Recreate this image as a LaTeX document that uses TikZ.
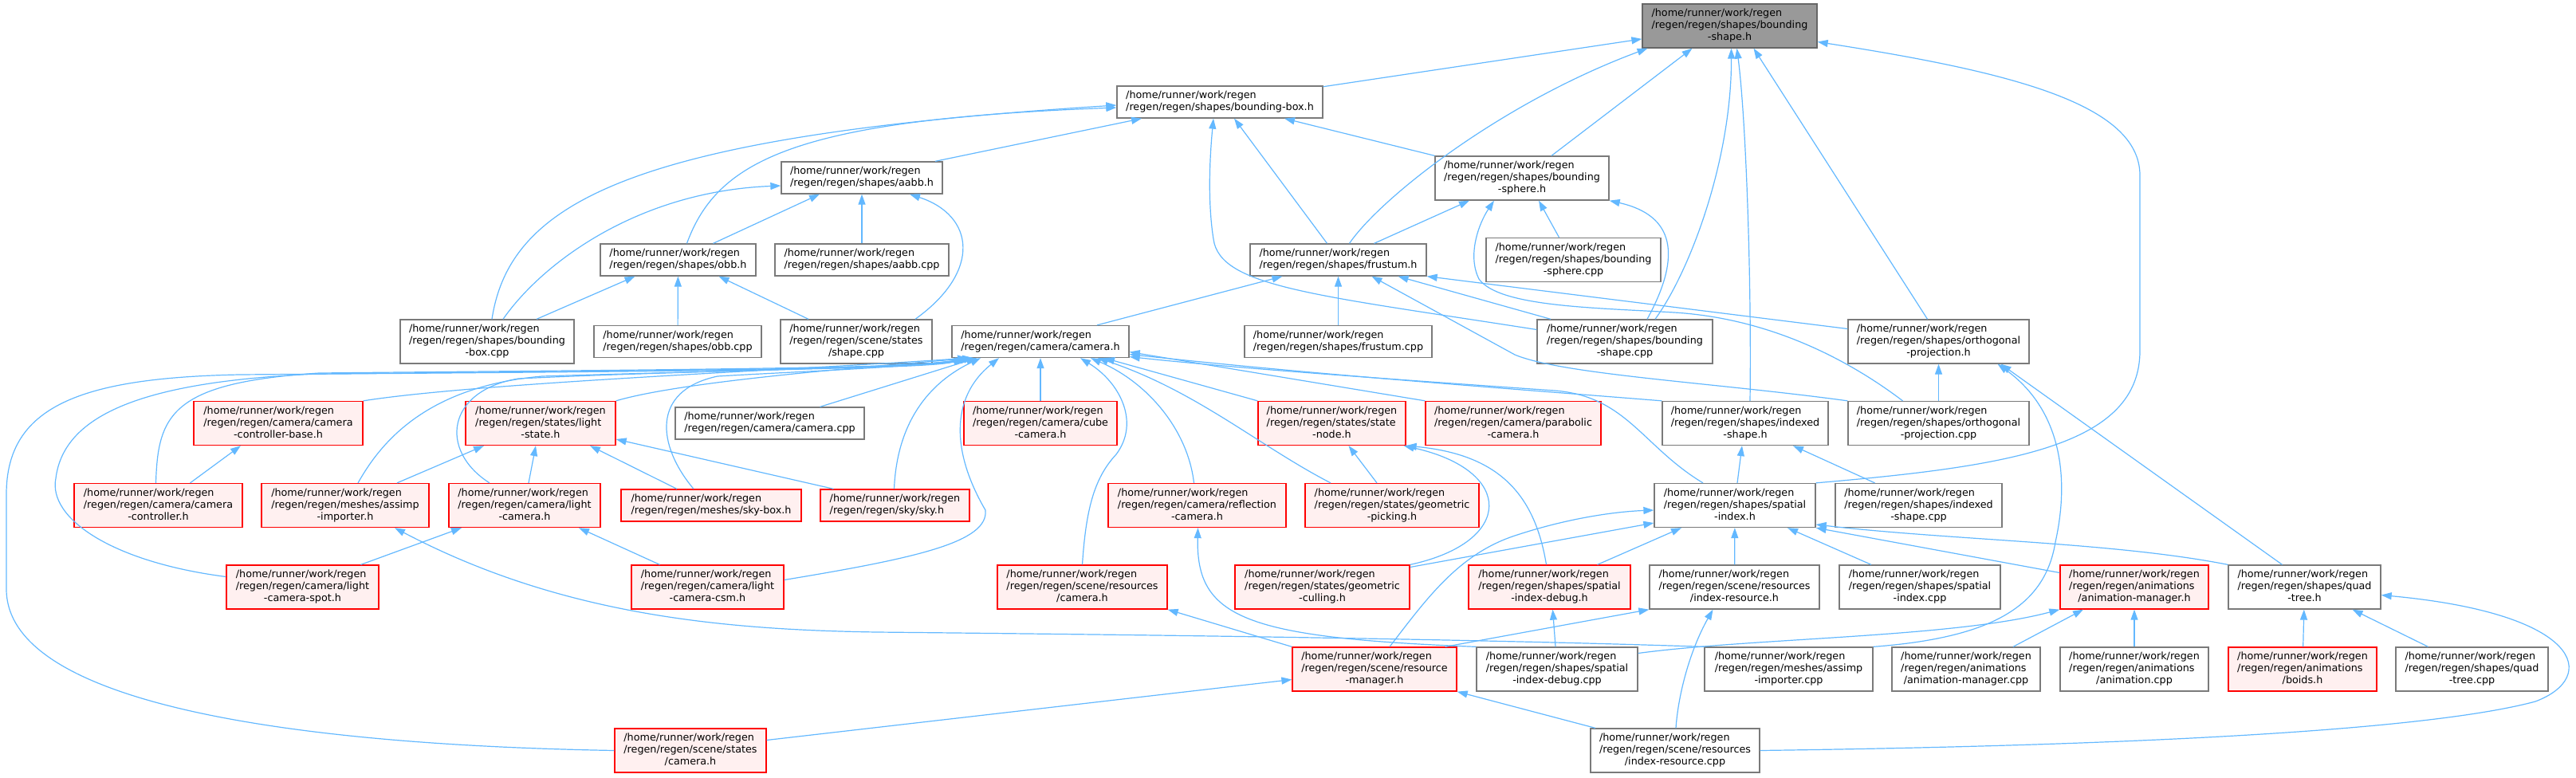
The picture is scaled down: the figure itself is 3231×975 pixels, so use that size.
\documentclass[tikz,border=0pt]{standalone}
\usepackage{fontspec}
\setmainfont{DejaVu Sans}
\usepackage{tikz}
\usepackage{xcolor}
\usetikzlibrary{arrows.meta}

\definecolor{edgeblue}{HTML}{63B8FF}
\definecolor{fileborder}{HTML}{7A7A7A}
\definecolor{rootfill}{HTML}{999999}
\definecolor{rootborder}{HTML}{666666}
\definecolor{redfill}{HTML}{FFF0F0}

\newcommand{\ptwo}[1]{\begin{tabular}{@{}l@{}}/home/runner/work/regen\\#1\end{tabular}}
\newcommand{\pthree}[2]{\begin{tabular}{@{}l@{}}/home/runner/work/regen\\#1\\\multicolumn{1}{@{}c@{}}{#2}\end{tabular}}

\begin{document}
\begin{tikzpicture}[x=1pt, y=-1pt, >={Triangle[length=13pt,width=9pt]},
        filebox/.style={draw=fileborder, fill=white, line width=1.3pt, inner xsep=6pt, inner ysep=5pt, font=\fontsize{12.75}{15}\selectfont},
        redbox/.style={filebox, draw=red, fill=redfill},
        rootbox/.style={filebox, draw=rootborder, fill=rootfill},
        dep/.style={draw=edgeblue, line width=1.2pt}]
        \useasboundingbox (0,0) rectangle (3231,975);

        \node (bsh) at (2169.5, 32.5) [rootbox, minimum width=219pt] {\pthree{/regen/regen/shapes/bounding}{-shape.h}};
        \node (bbh) at (1530, 128) [filebox, minimum width=258pt] {\ptwo{/regen/regen/shapes/bounding-box.h}};
        \node (aabbh) at (1081, 223) [filebox, minimum width=202pt] {\ptwo{/regen/regen/shapes/aabb.h}};
        \node (bsph) at (1909, 223.5) [filebox, minimum width=218pt] {\pthree{/regen/regen/shapes/bounding}{-sphere.h}};
        \node (obbh) at (850.5, 326) [filebox, minimum width=195pt] {\ptwo{/regen/regen/shapes/obb.h}};
        \node (aabbc) at (1081, 326) [filebox, minimum width=218pt] {\ptwo{/regen/regen/shapes/aabb.cpp}};
        \node (frh) at (1678.5, 326) [filebox, minimum width=221pt] {\ptwo{/regen/regen/shapes/frustum.h}};
        \node (bspc) at (1973.5, 326) [filebox, minimum width=219pt] {\pthree{/regen/regen/shapes/bounding}{-sphere.cpp}};
        \node (bbc) at (611, 428.5) [filebox, minimum width=218pt] {\pthree{/regen/regen/shapes/bounding}{-box.cpp}};
        \node (obbc) at (850, 428.5) [filebox, minimum width=210pt] {\ptwo{/regen/regen/shapes/obb.cpp}};
        \node (shapec) at (1074, 428.5) [filebox, minimum width=190pt] {\pthree{/regen/regen/scene/states}{/shape.cpp}};
        \node (camh) at (1305, 428.5) [filebox, minimum width=222pt] {\ptwo{/regen/regen/camera/camera.h}};
        \node (frc) at (1678.5, 428.5) [filebox, minimum width=235pt] {\ptwo{/regen/regen/shapes/frustum.cpp}};
        \node (bshc) at (2038, 428.5) [filebox, minimum width=220pt] {\pthree{/regen/regen/shapes/bounding}{-shape.cpp}};
        \node (oph) at (2431.5, 428.5) [filebox, minimum width=227pt] {\pthree{/regen/regen/shapes/orthogonal}{-projection.h}};

        \node (ccbh) at (349, 531) [redbox, minimum width=212pt] {\pthree{/regen/regen/camera/camera}{-controller-base.h}};
        \node (lsh) at (678, 531) [redbox, minimum width=188pt] {\pthree{/regen/regen/states/light}{-state.h}};
        \node (camc) at (965.5, 531) [filebox, minimum width=237pt] {\ptwo{/regen/regen/camera/camera.cpp}};
        \node (cubeh) at (1305, 531) [redbox, minimum width=192pt] {\pthree{/regen/regen/camera/cube}{-camera.h}};
        \node (snh) at (1670.5, 531) [redbox, minimum width=185pt] {\pthree{/regen/regen/states/state}{-node.h}};
        \node (parah) at (1898, 531) [redbox, minimum width=220pt] {\pthree{/regen/regen/camera/parabolic}{-camera.h}};
        \node (ish) at (2189, 531) [filebox, minimum width=208pt] {\pthree{/regen/regen/shapes/indexed}{-shape.h}};
        \node (opc) at (2431.5, 531) [filebox, minimum width=227pt] {\pthree{/regen/regen/shapes/orthogonal}{-projection.cpp}};

        \node (cch) at (198.5, 634) [redbox, minimum width=211pt] {\pthree{/regen/regen/camera/camera}{-controller.h}};
        \node (aih) at (433, 634) [redbox, minimum width=210pt] {\pthree{/regen/regen/meshes/assimp}{-importer.h}};
        \node (lch) at (658, 634) [redbox, minimum width=190pt] {\pthree{/regen/regen/camera/light}{-camera.h}};
        \node (skyboxh) at (892, 634) [redbox, minimum width=226pt] {\ptwo{/regen/regen/meshes/sky-box.h}};
        \node (skyh) at (1122.5, 634) [redbox, minimum width=187pt] {\ptwo{/regen/regen/sky/sky.h}};
        \node (refh) at (1501.5, 634) [redbox, minimum width=223pt] {\pthree{/regen/regen/camera/reflection}{-camera.h}};
        \node (gph) at (1746, 634) [redbox, minimum width=218pt] {\pthree{/regen/regen/states/geometric}{-picking.h}};
        \node (sih) at (2176, 634) [filebox, minimum width=202pt] {\pthree{/regen/regen/shapes/spatial}{-index.h}};
        \node (isc) at (2406.5, 634) [filebox, minimum width=209pt] {\pthree{/regen/regen/shapes/indexed}{-shape.cpp}};

        \node (lcsh) at (379.5, 736.5) [redbox, minimum width=191pt] {\pthree{/regen/regen/camera/light}{-camera-spot.h}};
        \node (lcch) at (887.5, 736.5) [redbox, minimum width=191pt] {\pthree{/regen/regen/camera/light}{-camera-csm.h}};
        \node (srch) at (1357.5, 736.5) [redbox, minimum width=213pt] {\pthree{/regen/regen/scene/resources}{/camera.h}};
        \node (gch) at (1658.5, 736.5) [redbox, minimum width=219pt] {\pthree{/regen/regen/states/geometric}{-culling.h}};
        \node (sidh) at (1943.5, 736.5) [redbox, minimum width=203pt] {\pthree{/regen/regen/shapes/spatial}{-index-debug.h}};
        \node (irh) at (2175.5, 736.5) [filebox, minimum width=213pt] {\pthree{/regen/regen/scene/resources}{/index-resource.h}};
        \node (sic) at (2408, 736.5) [filebox, minimum width=202pt] {\pthree{/regen/regen/shapes/spatial}{-index.cpp}};
        \node (amh) at (2677, 736.5) [redbox, minimum width=186pt] {\pthree{/regen/regen/animations}{/animation-manager.h}};
        \node (qth) at (2890.5, 736.5) [filebox, minimum width=191pt] {\pthree{/regen/regen/shapes/quad}{-tree.h}};

        \node (rmh) at (1724, 839.5) [redbox, minimum width=206pt] {\pthree{/regen/regen/scene/resource}{-manager.h}};
        \node (sidc) at (1953, 839.5) [filebox, minimum width=202pt] {\pthree{/regen/regen/shapes/spatial}{-index-debug.cpp}};
        \node (aic) at (2243.5, 839.5) [filebox, minimum width=211pt] {\pthree{/regen/regen/meshes/assimp}{-importer.cpp}};
        \node (amc) at (2466, 839.5) [filebox, minimum width=186pt] {\pthree{/regen/regen/animations}{/animation-manager.cpp}};
        \node (anc) at (2677, 839.5) [filebox, minimum width=186pt] {\pthree{/regen/regen/animations}{/animation.cpp}};
        \node (boidsh) at (2888, 839.5) [redbox, minimum width=186pt] {\pthree{/regen/regen/animations}{/boids.h}};
        \node (qtc) at (3100.5, 839.5) [filebox, minimum width=191pt] {\pthree{/regen/regen/shapes/quad}{-tree.cpp}};

        \node (ssch) at (866, 941.5) [redbox, minimum width=190pt] {\pthree{/regen/regen/scene/states}{/camera.h}};
        \node (irc) at (2101, 941.5) [filebox, minimum width=212pt] {\pthree{/regen/regen/scene/resources}{/index-resource.cpp}};

        \draw[->, dep] (bbh) -- (bsh);
        \draw[->, dep] ([xshift=14pt]frh.north) .. controls (1730,250) and (1880,130) .. ([xshift=-103pt]bsh.south);
        \draw[->, dep] ([xshift=37pt]bsph.north) -- ([xshift=-47pt]bsh.south);
        \draw[->, dep] ([xshift=38pt]bshc.north) .. controls (2120,340) and (2172,200) .. ([xshift=2pt]bsh.south);
        \draw[->, dep] ([xshift=6pt]ish.north) .. controls (2197,350) and (2190,150) .. ([xshift=9pt]bsh.south);
        \draw[->, dep] ([xshift=-14pt]oph.north) -- ([xshift=30pt]bsh.south);
        \draw[->, dep] (sih.north east) .. controls (2520,585) and (2684,560) .. (2684,440) -- (2684,220) .. controls (2684,130) and (2520,90) .. ([yshift=-20pt]bsh.east);

        \draw[->, dep] ([xshift=92pt]aabbh.north) -- ([xshift=-98pt]bbh.south);
        \draw[->, dep] ([xshift=11pt]obbh.north) .. controls (900,200) and (1000,150) .. ([yshift=-7pt]bbh.west);
        \draw[->, dep] ([xshift=6pt]bbc.north) .. controls (640,250) and (800,170) .. ([yshift=-4pt]bbh.west);
        \draw[->, dep] ([xshift=-14pt]frh.north) -- ([xshift=18pt]bbh.south);
        \draw[->, dep] (bsph.north west) -- ([xshift=81pt]bbh.south);
        \draw[->, dep] ([yshift=15pt]bshc.west) .. controls (1650,370) and (1530,360) .. (1522,300) .. controls (1514,250) and (1518,190) .. ([xshift=-8pt]bbh.south);

        \draw[->, dep] ([xshift=44pt]obbh.north) -- ([xshift=-53pt]aabbh.south);
        \draw[->, dep] (aabbc) -- (aabbh);
        \draw[->, dep] ([xshift=20pt]bbc.north) .. controls (680,330) and (800,240) .. ([yshift=-10pt]aabbh.west);
        \draw[->, dep] ([xshift=74pt]shapec.north) .. controls (1232,340) and (1222,270) .. ([xshift=60pt]aabbh.south);
        \draw[->, dep] ([xshift=62pt]bbc.north) -- ([xshift=-54pt]obbh.south);
        \draw[->, dep] (obbc) -- (obbh);
        \draw[->, dep] ([xshift=-60pt]shapec.north) -- ([xshift=51pt]obbh.south);

        \draw[->, dep] ([xshift=45pt]frh.north) -- ([xshift=-66pt]bsph.south);
        \draw[->, dep] ([xshift=-18pt]bspc.north) -- ([xshift=21pt]bsph.south);
        \draw[->, dep] ([xshift=28pt]bshc.north) .. controls (2110,320) and (2100,270) .. (bsph.south east);
        \draw[->, dep] ([xshift=-45pt]opc.north) .. controls (2330,460) and (2230,400) .. (2100,392) .. controls (2000,386) and (1880,385) .. (1855,350) .. controls (1840,320) and (1855,280) .. ([xshift=-35pt]bsph.south);

        \draw[->, dep] ([xshift=71pt]camh.north) -- ([xshift=-70pt]frh.south);
        \draw[->, dep] (frc) -- (frh);
        \draw[->, dep] ([xshift=-93pt]bshc.north) -- ([xshift=75pt]frh.south);
        \draw[->, dep] ([yshift=16pt]oph.west) -- (frh.south east);
        \draw[->, dep] (opc.north west) .. controls (2150,480) and (1960,470) .. (1900,445) -- ([xshift=42pt]frh.south);

        \draw[->, dep] (ssch.west) .. controls (400,935) and (10,890) .. (8,740) -- (8,620) .. controls (8,510) and (100,474) .. (300,470) .. controls (800,466) and (1170,464) .. ([xshift=-97pt]camh.south);
        \draw[->, dep] ([yshift=13pt]lcsh.west) .. controls (140,705) and (60,650) .. (70,600) .. controls (80,520) and (180,478) .. (400,469) .. controls (800,465) and (1170,463) .. ([xshift=-95pt]camh.south);
        \draw[->, dep] ([xshift=-3pt]cch.north) .. controls (198,520) and (215,480) .. (400,468) .. controls (800,464) and (1170,462) .. ([xshift=-93pt]camh.south);
        \draw[->, dep] (ccbh.north east) .. controls (600,480) and (1000,464) .. ([xshift=-91pt]camh.south);
        \draw[->, dep] ([xshift=16pt]aih.north) .. controls (475,560) and (530,485) .. (680,472) .. controls (900,465) and (1150,462) .. ([xshift=-89pt]camh.south);
        \draw[->, dep] ([xshift=-44pt]lch.north) .. controls (550,565) and (560,490) .. (650,475) .. controls (850,465) and (1150,462) .. ([xshift=-87pt]camh.south);
        \draw[->, dep] (lsh.north east) .. controls (850,480) and (1050,463) .. ([xshift=-85pt]camh.south);
        \draw[->, dep] ([xshift=-22pt]skyboxh.north) .. controls (825,560) and (815,490) .. (900,472) .. controls (1000,466) and (1130,462) .. ([xshift=-83pt]camh.south);
        \draw[->, dep] ([xshift=63pt]camc.north) -- ([xshift=-80pt]camh.south);
        \draw[->, dep] ([xshift=-1pt]skyh.north) .. controls (1125,530) and (1165,480) .. ([xshift=-75pt]camh.south);
        \draw[->, dep] ([yshift=9pt]lcch.east) .. controls (1150,700) and (1240,680) .. (1236,640) .. controls (1195,570) and (1190,500) .. ([xshift=-52pt]camh.south);
        \draw[->, dep] (cubeh) -- (camh);
        \draw[->, dep] (srch.north) .. controls (1362,640) and (1372,600) .. (1400,570) .. controls (1430,530) and (1405,480) .. ([xshift=50pt]camh.south);
        \draw[->, dep] ([xshift=-4pt]refh.north) .. controls (1490,540) and (1440,480) .. ([xshift=63pt]camh.south);
        \draw[->, dep] ([xshift=-77pt]gph.north) .. controls (1580,560) and (1500,490) .. ([xshift=72pt]camh.south);
        \draw[->, dep] (snh.north west) -- ([xshift=80pt]camh.south);
        \draw[->, dep] (parah.north west) -- ([yshift=-13pt]camh.east);
        \draw[->, dep] (ish.north west) .. controls (1900,488) and (1650,470) .. ([yshift=-16pt]camh.east);
        \draw[->, dep] ([xshift=-40pt]sih.north) .. controls (2060,560) and (2040,497) .. (1950,490) .. controls (1750,476) and (1550,462) .. ([yshift=-19pt]camh.east);

        \draw[->, dep] ([xshift=40pt]cch.north) -- ([xshift=-47pt]ccbh.south);
        \draw[->, dep] ([xshift=65pt]aih.north) -- ([xshift=-71pt]lsh.south);
        \draw[->, dep] ([xshift=5pt]lch.north) -- ([xshift=-6pt]lsh.south);
        \draw[->, dep] ([xshift=-43pt]skyboxh.north) -- ([xshift=62pt]lsh.south);
        \draw[->, dep] ([xshift=-77pt]skyh.north) -- ([yshift=-20pt]lsh.east);
        \draw[->, dep] ([xshift=73pt]lcsh.north) -- ([xshift=-79pt]lch.south);
        \draw[->, dep] ([xshift=-60pt]lcch.north) -- ([xshift=68pt]lch.south);

        \draw[->, dep] ([xshift=-19pt]gph.north) -- ([xshift=21pt]snh.south);
        \draw[->, dep] (gch.north east) .. controls (1900,680) and (1900,590) .. ([xshift=-3pt]snh.south east);
        \draw[->, dep] ([xshift=-4pt]sidh.north) .. controls (1925,620) and (1880,570) .. (snh.south east);

        \draw[->, dep] (opc) -- (oph);
        \draw[->, dep] ([xshift=-28pt]qth.north) -- ([xshift=78pt]oph.south);
        \draw[->, dep] (aic.north east) .. controls (2500,800) and (2565,760) .. (2578,680) .. controls (2598,590) and (2580,510) .. ([xshift=74pt]oph.south);

        \draw[->, dep] ([xshift=3pt]sih.north) -- ([xshift=-4pt]ish.south);
        \draw[->, dep] ([xshift=-55pt]isc.north) -- ([xshift=60pt]ish.south);

        \draw[->, dep] (irh) -- (sih);
        \draw[->, dep] ([xshift=-61pt]sic.north) -- ([xshift=66pt]sih.south);
        \draw[->, dep] ([yshift=18pt]amh.west) -- (sih.south east);
        \draw[->, dep] (qth.north west) .. controls (2650,680) and (2450,678) .. ([yshift=-24pt]sih.east);
        \draw[->, dep] ([xshift=60pt]sidh.north) -- ([xshift=-67pt]sih.south);
        \draw[->, dep] ([yshift=25pt]gch.east) -- ([yshift=-22pt]sih.west);
        \draw[->, dep] ([xshift=19pt]rmh.north) .. controls (1790,750) and (1830,695) .. (1900,672) .. controls (1960,652) and (2020,642) .. ([yshift=-6pt]sih.west);

        \draw[->, dep] ([xshift=-2pt]sidc.north) -- ([xshift=4pt]sidh.south);
        \draw[->, dep] (rmh.north west) -- (srch.south east);
        \draw[->, dep] ([yshift=13pt]ssch.east) -- ([yshift=-13pt]rmh.west);
        \draw[->, dep] ([xshift=-100pt]irc.north) -- (rmh.south east);
        \draw[->, dep] ([xshift=-15pt]rmh.north east) -- (irh.south west);
        \draw[->, dep] ([xshift=1pt]irc.north) .. controls (2105,870) and (2120,815) .. ([xshift=-27pt]irh.south);

        \draw[->, dep] (aic.north west) .. controls (1800,800) and (1300,795) .. (1100,793) .. controls (900,790) and (700,770) .. ([xshift=62pt]aih.south);
        \draw[->, dep] (sidc.north west) .. controls (1560,800) and (1500,775) .. ([xshift=1pt]refh.south);
        \draw[->, dep] ([yshift=20pt]sidc.east) .. controls (2200,800) and (2450,800) .. (amh.south west);
        \draw[->, dep] ([xshift=59pt]amc.north) -- ([xshift=-64pt]amh.south);
        \draw[->, dep] (anc) -- (amh);

        \draw[->, dep] (boidsh) -- (qth);
        \draw[->, dep] ([xshift=-55pt]qtc.north) -- ([xshift=60pt]qth.south);
        \draw[->, dep] (irc.east) .. controls (2700,935) and (3050,915) .. (3180,880) .. controls (3260,850) and (3240,770) .. ([yshift=-10pt]qth.east);
    \end{tikzpicture}
\end{document}
